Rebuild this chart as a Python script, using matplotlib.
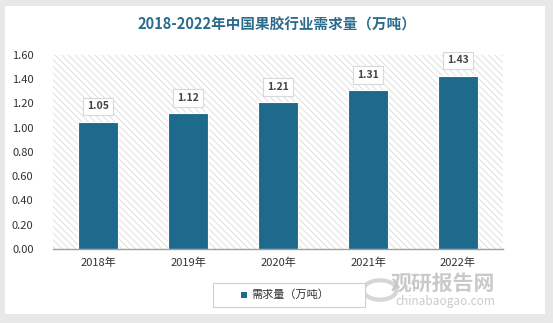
import matplotlib.pyplot as plt
import matplotlib.patches as mpatches

plt.rcParams['font.family'] = ['Noto Sans CJK SC', 'DejaVu Sans']
plt.rcParams['hatch.linewidth'] = 0.6

# Pectin demand in China (10k tonnes)
years = ["2018年", "2019年", "2020年", "2021年", "2022年"]
demand = [1.05, 1.12, 1.21, 1.31, 1.43]
series_name = "需求量（万吨）"
title = "2018-2022年中国果胶行业需求量（万吨）"

bar_color = "#1d6a8d"

fig = plt.figure(figsize=(5.53, 3.23), dpi=100)
fig.patch.set_facecolor("#e8e8e8")

# white card behind everything
card = mpatches.Rectangle((5 / 553, 9 / 323), 540 / 553, 308 / 323,
                          transform=fig.transFigure, facecolor="white",
                          edgecolor="none", zorder=-10)
fig.patches.append(card)

ax = fig.add_axes([53 / 553, 1 - 249 / 323, 450 / 553, 194 / 323])
ax.set_zorder(1)
ax.set_facecolor("none")

# hatched plot background
ax.add_patch(mpatches.Rectangle((0, 0), 1, 1, transform=ax.transAxes,
                                facecolor="white", edgecolor="#dadada",
                                hatch="\\\\\\\\\\", linewidth=0, zorder=0))

x = range(len(years))
bars = ax.bar(x, demand, width=0.45, color=bar_color, edgecolor="white",
              linewidth=0.8, zorder=3)

ax.set_ylim(0, 1.6)
ax.set_xlim(-0.5, len(years) - 0.5)
ax.set_yticks([i * 0.2 for i in range(9)])
ax.set_yticklabels([f"{i * 0.2:.2f}" for i in range(9)], fontsize=8, color="#333333")
ax.set_xticks(list(x))
ax.set_xticklabels(years, fontsize=8, color="#333333")
ax.tick_params(axis="both", length=0)
ax.tick_params(axis="y", pad=14)
ax.tick_params(axis="x", pad=6)
for side in ["top", "right", "left"]:
    ax.spines[side].set_visible(False)
ax.spines["bottom"].set_color("#a0a0a0")
ax.spines["bottom"].set_linewidth(1)
ax.spines["bottom"].set_zorder(4)

# value labels in white boxes
for i, v in enumerate(demand):
    ax.annotate(f"{v:.2f}", (i, v), xytext=(0, 11), textcoords="offset points",
                ha="center", va="center", fontsize=7.5, fontweight="bold",
                color="#444444", zorder=6,
                bbox=dict(boxstyle="square,pad=0.35", facecolor="white",
                          edgecolor="#d8d8d8", linewidth=0.8))

fig.text(0.5, 1 - 25 / 323, title, ha="center", va="center", fontsize=10.5,
         fontweight="bold", color="#2b6b8c")

# legend box
leg_box = mpatches.Rectangle((213 / 553, 1 - 307 / 323), 152 / 553, 24 / 323,
                             transform=fig.transFigure, facecolor="white",
                             edgecolor="#d0d0d0", linewidth=0.8, zorder=2)
fig.patches.append(leg_box)
fig.patches.append(mpatches.Rectangle((241 / 553, 1 - 298 / 323), 6 / 553, 6 / 323,
                                      transform=fig.transFigure,
                                      facecolor=bar_color, edgecolor="none", zorder=3))
fig.text(251 / 553, 1 - 295 / 323, series_name, ha="left", va="center",
         fontsize=8, color="#333333")

# watermark
fig.text(443 / 553, 1 - 283 / 323, "观研报告网", ha="center", va="center",
         fontsize=15, fontweight="bold", color="#c4c4c4", alpha=0.9)
fig.text(445 / 553, 1 - 301 / 323, "chinabaogao.com", ha="center", va="center",
         fontsize=8.5, color="#c4c4c4", alpha=0.9)
fig.patches.append(mpatches.Circle((380 / 553, 1 - 290 / 323), 0.03,
                                   transform=fig.transFigure, facecolor="none",
                                   edgecolor="#cccccc", linewidth=3, alpha=0.8))

fig.savefig("out.png", dpi=100, facecolor=fig.get_facecolor())
